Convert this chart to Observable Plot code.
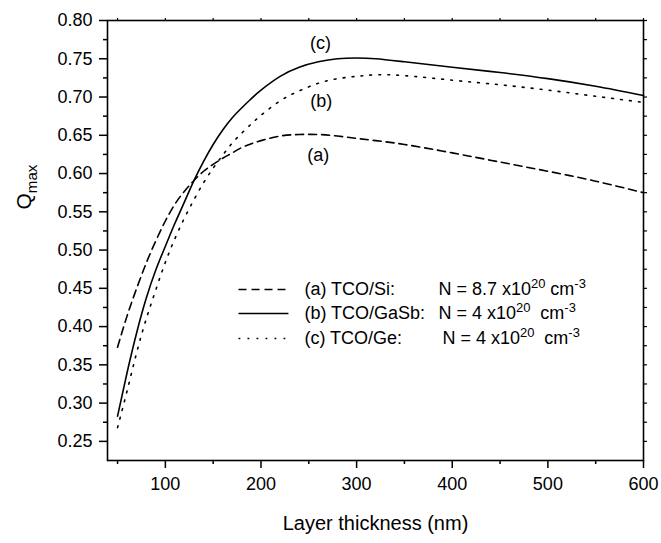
<!DOCTYPE html>
<html><head><meta charset="utf-8">
<script src="https://cdn.jsdelivr.net/npm/d3@7"></script>
<script src="https://cdn.jsdelivr.net/npm/@observablehq/plot@0.6"></script>
<style>
body{margin:0;background:#fff;}
#chart svg{font-family:"Liberation Sans",Arial,Helvetica,sans-serif;}
</style>
</head><body><div id="chart"></div>
<script>
// ---- data ----
const thickness = [50,60,70,80,90,100,110,120,130,140,150,160,170,180,190,200,220,240,260,280,300,320,350,400,450,500,550,600];
const qSi   = [0.373,0.414,0.450,0.483,0.512,0.538,0.560,0.577,0.591,0.603,0.612,0.620,0.627,0.634,0.639,0.643,0.649,0.651,0.651,0.649,0.646,0.643,0.638,0.627,0.615,0.603,0.590,0.575];
const qGaSb = [0.283,0.340,0.392,0.437,0.474,0.505,0.535,0.563,0.591,0.616,0.638,0.657,0.673,0.686,0.698,0.709,0.727,0.739,0.746,0.750,0.751,0.750,0.746,0.739,0.732,0.724,0.714,0.702];
const qGe   = [0.268,0.316,0.366,0.410,0.448,0.484,0.515,0.542,0.566,0.588,0.607,0.624,0.640,0.653,0.665,0.676,0.695,0.708,0.718,0.724,0.727,0.729,0.728,0.722,0.716,0.709,0.701,0.693];
const seriesNames = ["(a) TCO/Si:", "(b) TCO/GaSb:", "(c) TCO/Ge:"];
const seriesDensity = ["N = 8.7 x10^{20} cm^{-3}", "N = 4 x10^{20}  cm^{-3}", "N = 4 x10^{20}  cm^{-3}"];
const curveLabels = ["(c)", "(b)", "(a)"];
const xTicks = [100,200,300,400,500,600];
const xMinorTicks = [50,150,250,350,450,550];
const yTicks = [0.25,0.30,0.35,0.40,0.45,0.50,0.55,0.60,0.65,0.70,0.75,0.80];
const yMinorTicks = [0.275,0.325,0.375,0.425,0.475,0.525,0.575,0.625,0.675,0.725,0.775];
const xLabel = "Layer thickness (nm)";
const yLabel = "Q_{max}";

// ---- layout / style constants ----
const dashes = ["8,5", null, "1.8,7.2"];
const legendRowY = [0.4485, 0.4171, 0.3844];
const legendLineX = [176.5, 228.7];
const legendNameX = 245.4;
const legendDensityX = [385.5, 385.5, 389.7];
const curveLabelPos = [[262.2, 0.770], [263, 0.694], [260, 0.624]];

const seriesValues = [qSi, qGaSb, qGe];
const lineMarks = seriesValues.map((vals, s) =>
  Plot.line(thickness.map((t, i) => ({t, q: vals[i]})), {
    x: "t", y: "q", stroke: "black", strokeWidth: 1.6,
    strokeDasharray: dashes[s], curve: "natural"
  })
);
const legendRows = seriesNames.map((name, i) => ({i, name, dens: seriesDensity[i]}));

const plot = Plot.plot({
  width: 661, height: 543,
  marginLeft: 107, marginRight: 18, marginTop: 20, marginBottom: 83,
  style: {fontSize: "18px", fontFamily: "'Liberation Sans', Arial, sans-serif", color: "black", background: "white"},
  x: {domain: [39.5, 600], axis: null},
  y: {domain: [0.225, 0.80], axis: null},
  marks: [
    Plot.axisX(xTicks, {tickSize: 8, tickPadding: 9, label: null, strokeWidth: 1.5}),
    Plot.axisX(xMinorTicks, {tickSize: 4, tickFormat: () => "", label: null, strokeWidth: 1.5}),
    Plot.axisX(xTicks.concat(xMinorTicks), {anchor: "top", tickSize: 3, tickFormat: () => "", label: null, strokeWidth: 1.2}),
    Plot.axisY(yTicks, {tickSize: 8, tickPadding: 7, tickFormat: d3.format(".2f"), label: null, strokeWidth: 1.5}),
    Plot.axisY(yMinorTicks, {tickSize: 4, tickFormat: () => "", label: null, strokeWidth: 1.5}),
    Plot.axisY(yTicks.concat(yMinorTicks), {anchor: "right", tickSize: 3, tickFormat: () => "", label: null, strokeWidth: 1.2}),
    Plot.frame({stroke: "black", strokeWidth: 1.6}),
    ...lineMarks,
    Plot.text(curveLabels, {x: (d, i) => curveLabelPos[i][0], y: (d, i) => curveLabelPos[i][1], text: d => d, fontSize: 18}),
    ...legendRows.map(r => Plot.link([r], {x1: legendLineX[0], x2: legendLineX[1], y1: legendRowY[r.i], y2: legendRowY[r.i], stroke: "black", strokeWidth: 1.6, strokeDasharray: dashes[r.i]})),
    Plot.text(legendRows, {x: legendNameX, y: r => legendRowY[r.i], text: "name", textAnchor: "start", fontSize: 18}),
    Plot.text(legendRows, {x: r => legendDensityX[r.i], y: r => legendRowY[r.i], text: "dens", textAnchor: "start", fontSize: 18}),
    Plot.text([xLabel], {frameAnchor: "bottom", dy: 69, text: d => d, fontSize: 20}),
    Plot.text([yLabel], {frameAnchor: "left", dx: -83, dy: -31, rotate: -90, text: d => d, fontSize: 21})
  ]
});

// turn ^{..} and _{..} into real super/subscript tspans
d3.select(plot).selectAll("text").each(function() {
  const t = this.textContent;
  if (!/[\^_]\{/.test(t)) return;
  const sel = d3.select(this);
  sel.text(null);
  const re = /([\^_])\{([^}]*)\}/g;
  let last = 0, m, cur = 0;
  const add = (s, off, small) => {
    if (!s) return;
    const ts = sel.append("tspan").attr("dy", off - cur).text(s);
    if (small) ts.attr("font-size", "0.72em");
    cur = off;
  };
  while ((m = re.exec(t))) {
    add(t.slice(last, m.index), 0, false);
    add(m[2], m[1] === "^" ? -7 : 6, true);
    last = re.lastIndex;
  }
  add(t.slice(last), 0, false);
});

document.getElementById("chart").appendChild(plot);
</script>
</body></html>
